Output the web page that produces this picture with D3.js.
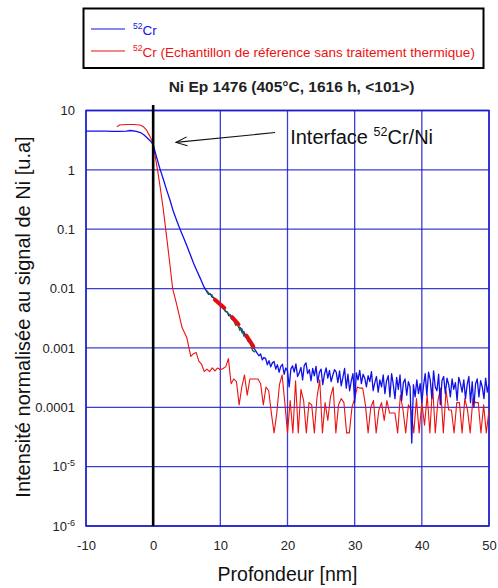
<!DOCTYPE html>
<html>
<head>
<meta charset="utf-8">
<script src="https://cdn.jsdelivr.net/npm/d3@7"></script>
<style>
  html, body { margin: 0; padding: 0; background: #fff; }
  svg { display: block; font-family: Arial, "Liberation Sans", Helvetica, sans-serif; }
</style>
</head>
<body>
<svg id="chart" width="498" height="588"></svg>
<script>
// ---------------- DATA ----------------
const xTicks = [-10, 0, 10, 20, 30, 40, 50];
const xTickLabels = ["-10", "0", "10", "20", "30", "40", "50"];
const yTicks = [10, 1, 0.1, 0.01, 0.001, 0.0001, 1e-5, 1e-6];
const yTickLabels = [["10"], ["1"], ["0.1"], ["0.01"], ["0.001"], ["0.0001"], ["10", "-5"], ["10", "-6"]];

const legendLabels = [
  { sup: "52", text: "Cr", color: "#1010e8" },
  { sup: "52", text: "Cr (Echantillon de réference sans traitement thermique)", color: "#ee1111" }
];
const chartTitle = "Ni Ep 1476 (405°C, 1616 h, <101>)";
const xTitle = "Profondeur [nm]";
const yTitle = "Intensité normalisée au signal de Ni [u.a]";

// Blue (annealed) profile: measured part near the interface [depth nm, intensity]
const blueProfile = [
  [-10,4.5],[-9,4.5],[-8,4.48],[-7,4.5],[-6,4.45],[-5,4.45],[-4,4.5],[-3.4,4.6],[-2.5,4.45],
  [-1.9,4.25],[-1.4,3.9],[-0.95,3.5],[-0.45,3.1],[0,2.65],[0.5,1.65],[1,1.05],[1.5,0.7],
  [2,0.46],[2.5,0.31],[3,0.2],[3.5,0.14],[4,0.1],[4.5,0.073],[5,0.053],[5.5,0.038],[6,0.027],
  [6.5,0.02],[7,0.015],[7.5,0.011],[8,0.0088],[8.25,0.0080],[8.5,0.0082],[8.75,0.0072],
  [9,0.0070],[9.25,0.0064],[9.5,0.0063],[9.75,0.0055],[10,0.0053],[10.25,0.0049],[10.5,0.0047],
  [10.75,0.0041],[11,0.0041],[11.25,0.0035],[11.5,0.0036],[11.75,0.0030],[12,0.0031],
  [12.25,0.0026],[12.5,0.0026],[12.75,0.0022],[13,0.0022],[13.25,0.0018],[13.5,0.0019],
  [13.75,0.0015],[14,0.0016],[14.25,0.0013],[14.5,0.0013],[14.75,0.0011],[15,0.00098]
];
// Blue background noise region, sampled every 0.25 nm from 15.25 nm
const blueNoiseStart = 15.25;
const blueNoiseStep = 0.25;
const blueNoise = [
  9.0e-4,8.1e-4,7.4e-4,7.9e-4,6.3e-4,6.9e-4,6.6e-4,5.2e-4,6.1e-4,4.8e-4,
  5.6e-4,5.9e-4,4.4e-4,5.2e-4,3.9e-4,4.9e-4,5.3e-4,3.6e-4,4.6e-4,4.1e-4,
  2.2e-4,4.4e-4,5.0e-4,3.9e-4,5.4e-4,3.3e-4,3.8e-4,4.7e-4,2.9e-4,5.1e-4,
  5.6e-4,3.7e-4,4.3e-4,2.8e-4,4.5e-4,3.4e-4,4.9e-4,2.6e-4,3.9e-4,4.4e-4,
  2.4e-4,3.6e-4,4.6e-4,3.1e-4,4.2e-4,2.7e-4,3.5e-4,4.3e-4,3.9e-4,2.6e-4,
  4.1e-4,2.3e-4,3.2e-4,4.5e-4,2.1e-4,3.6e-4,1.9e-4,2.8e-4,3.7e-4,1.2e-4,
  3.8e-4,2.9e-4,4.2e-4,2.5e-4,3.6e-4,3.1e-4,2.2e-4,3.4e-4,2.7e-4,4.0e-4,
  1.9e-4,2.6e-4,3.3e-4,1.8e-4,2.9e-4,2.2e-4,3.5e-4,1.7e-4,2.8e-4,3.4e-4,
  1.5e-4,3.7e-4,2.4e-4,1.4e-4,3.2e-4,2.0e-4,3.5e-4,1.3e-4,2.6e-4,3.0e-4,
  1.6e-4,2.7e-4,2.2e-4,2.5e-5,2.4e-4,1.5e-4,2.9e-4,1.7e-4,2.5e-4,1.2e-4,
  2.3e-4,3.7e-4,1.6e-4,3.9e-4,2.9e-4,1.4e-4,4.1e-4,2.2e-4,1.9e-4,3.6e-4,
  1.1e-4,2.8e-4,3.3e-4,1.7e-4,3.1e-4,2.4e-4,1.5e-4,3.0e-4,2.0e-4,2.6e-4,
  1.3e-4,3.2e-4,2.5e-4,1.8e-4,2.9e-4,1.4e-4,2.4e-4,3.3e-4,1.2e-4,2.7e-4,
  1.0e-4,2.5e-4,3.0e-4,1.5e-4,2.8e-4,2.2e-4,1.4e-4,3.1e-4,1.8e-4,2.5e-4
];

// Red (reference, no heat treatment) profile near the interface
const redProfile = [
  [-5.4,5.3],[-5,5.7],[-4,5.8],[-3,5.8],[-2,5.7],[-1.5,5.4],[-1,4.7],[-0.5,3.7],[0,2.8],
  [0.3,1.7],[0.65,1.0],[1,0.55],[1.5,0.22],[2,0.075],[2.5,0.025],[2.9,0.01],[3.5,0.0054],
  [4.3,0.0022],[5.0,0.0015]
];
// Red background noise region, sampled every 0.4 nm from 5.6 nm
const redNoiseStart = 5.6;
const redNoiseStep = 0.4;
const redNoise = [
  7.2e-4,8.0e-4,8.4e-4,6.0e-4,5.3e-4,4.0e-4,4.4e-4,4.0e-4,4.6e-4,4.1e-4,
  4.6e-4,4.3e-4,4.5e-4,4.8e-4,6.6e-4,2.5e-4,3.0e-4,2.7e-4,1.1e-4,2.2e-4,
  3.5e-4,1.6e-4,3.0e-4,3.0e-4,3.0e-4,3.0e-4,2.5e-4,1.1e-4,2.2e-4,1.9e-4,
  7.9e-5,3.7e-5,7.9e-5,2.4e-4,3.5e-4,1.2e-4,3.7e-5,1.3e-4,3.7e-5,2.8e-4,
  3.7e-5,2.0e-4,1.3e-4,3.7e-5,1.2e-4,1.1e-4,3.7e-5,1.5e-4,2.9e-4,3.7e-5,
  1.2e-4,6.0e-5,1.5e-4,2.2e-4,3.7e-5,1.1e-4,1.4e-4,1.2e-4,3.7e-5,3.7e-5,
  1.0e-4,1.4e-4,2.2e-4,2.1e-4,2.1e-4,1.1e-4,3.7e-5,1.0e-4,1.3e-4,3.7e-5,
  9.0e-5,1.2e-4,6.0e-5,1.3e-4,8.0e-5,8.0e-5,8.0e-5,3.7e-5,1.6e-4,9.0e-5,
  3.7e-5,1.1e-4,9.0e-5,3.7e-5,1.4e-4,3.7e-5,1.2e-4,5.0e-5,1.6e-4,3.7e-5,
  2.5e-4,3.7e-5,1.3e-4,2.1e-4,3.7e-5,1.9e-4,9.0e-5,9.0e-5,3.7e-5,1.2e-4,
  1.2e-4,3.7e-5,1.4e-4,9.0e-5,3.7e-5,1.4e-4,1.2e-4,1.2e-4,3.7e-5,1.1e-4,
  3.7e-5,9.0e-5
];

// Green fitted segment over the blue profile
const greenFit = [
  [8.0,0.0092],[8.4,0.0080],[8.7,0.0079],[9.0,0.0070],[9.4,0.0063],[9.8,0.0056],[10.2,0.0050],
  [10.6,0.0044],[11.0,0.0040],[11.3,0.0037],[11.6,0.0032],[12.0,0.0029],[12.3,0.0024],
  [12.6,0.0026],[12.9,0.0020],[13.2,0.0021],[13.5,0.0016],[13.8,0.0017],[14.1,0.0013],
  [14.5,0.0012],[14.8,0.0009],[15.2,0.00085]
];
// Thick red fit segments
const redFitSegments = [
  [[9.2,0.0065],[10.6,0.0047]],
  [[11.75,0.0033],[12.7,0.0025]],
  [[13.9,0.0016],[14.9,0.00106]]
];

// Annotation (in data coordinates)
const annotation = { label: "Interface ", sup: "52", rest: "Cr/Ni",
  textX: 20.4, textY: 2.72, arrowFrom: [18.15, 4.25], arrowTo: [3.4, 2.9] };
const interfaceDepth = 0;

// ---------------- CHART ----------------
const svg = d3.select("#chart");
const plot = { left: 86, right: 489, top: 110.5, bottom: 526 };

const x = d3.scaleLinear().domain([-10, 50]).range([plot.left, plot.right]);
const y = d3.scaleLog().domain([1e-6, 10]).range([plot.bottom, plot.top]);

const gridColor = "#1c1ccc";
const blue = "#1010e8", red = "#ee1111", green = "#1d6b2c";

svg.append("defs").append("clipPath").attr("id", "clip")
  .append("rect").attr("x", plot.left).attr("y", plot.top)
  .attr("width", plot.right - plot.left).attr("height", plot.bottom - plot.top);

// grid
const grid = svg.append("g");
grid.selectAll("line.gx").data(xTicks).join("line")
  .attr("x1", d => x(d)).attr("x2", d => x(d))
  .attr("y1", plot.top).attr("y2", plot.bottom)
  .attr("stroke", gridColor).attr("stroke-width", 1.3).attr("opacity", 0.85);
grid.selectAll("line.gy").data(yTicks).join("line")
  .attr("x1", plot.left).attr("x2", plot.right)
  .attr("y1", d => y(d)).attr("y2", d => y(d))
  .attr("stroke", gridColor).attr("stroke-width", 1.3).attr("opacity", 0.85);

// frame
svg.append("rect").attr("x", plot.left).attr("y", plot.top)
  .attr("width", plot.right - plot.left).attr("height", plot.bottom - plot.top)
  .attr("fill", "none").attr("stroke", gridColor).attr("stroke-width", 1.5);

// axes
const xAxis = d3.axisBottom(x).tickValues(xTicks).tickSize(0).tickPadding(15)
  .tickFormat(d => xTickLabels[xTicks.indexOf(d)]);
const gx = svg.append("g").attr("transform", `translate(0,${plot.bottom})`).call(xAxis);
gx.select(".domain").remove();
gx.selectAll("text").attr("font-size", 13).attr("fill", "#222").attr("font-family", "Arial, 'Liberation Sans', sans-serif");

const yAxis = d3.axisLeft(y).tickValues(yTicks).tickSize(0).tickPadding(11).tickFormat(() => "");
const gy = svg.append("g").attr("transform", `translate(${plot.left},0)`).call(yAxis);
gy.select(".domain").remove();
gy.selectAll(".tick text").each(function(d) {
  const lab = yTickLabels[yTicks.indexOf(d)];
  const t = d3.select(this).attr("font-size", 13).attr("fill", "#222")
    .attr("font-family", "Arial, 'Liberation Sans', sans-serif");
  t.text(null);
  t.append("tspan").text(lab[0]);
  if (lab[1]) t.append("tspan").attr("font-size", 9).attr("dy", -5).text(lab[1]);
});

// data lines
const line = d3.line().x(d => x(d[0])).y(d => y(d[1]));
const data = svg.append("g").attr("clip-path", "url(#clip)");

const blueAll = blueProfile.concat(blueNoise.map((v, i) => [blueNoiseStart + i * blueNoiseStep, v]));
const redAll = redProfile.concat(redNoise.map((v, i) => [redNoiseStart + i * redNoiseStep, v]));

data.append("path").datum(redAll).attr("d", line)
  .attr("fill", "none").attr("stroke", red).attr("stroke-width", 1.1).attr("stroke-linejoin", "round");
data.append("path").datum(blueAll).attr("d", line)
  .attr("fill", "none").attr("stroke", blue).attr("stroke-width", 1.3).attr("stroke-linejoin", "round");
data.append("path").datum(greenFit).attr("d", line)
  .attr("fill", "none").attr("stroke", green).attr("stroke-width", 1.4);
data.selectAll("path.rfit").data(redFitSegments).join("path")
  .attr("d", line).attr("fill", "none").attr("stroke", "#e01010")
  .attr("stroke-width", 4).attr("stroke-linecap", "round");

// interface vertical line
svg.append("line")
  .attr("x1", x(interfaceDepth)).attr("x2", x(interfaceDepth))
  .attr("y1", plot.top - 5.5).attr("y2", plot.bottom)
  .attr("stroke", "#000").attr("stroke-width", 2.6);

// annotation arrow
const ax1 = x(annotation.arrowFrom[0]), ay1 = y(annotation.arrowFrom[1]);
const ax2 = x(annotation.arrowTo[0]), ay2 = y(annotation.arrowTo[1]);
svg.append("line").attr("x1", ax1).attr("y1", ay1).attr("x2", ax2).attr("y2", ay2)
  .attr("stroke", "#111").attr("stroke-width", 1.1);
const ang = Math.atan2(ay1 - ay2, ax1 - ax2);
const hl = 12, ha = 0.38;
svg.append("path")
  .attr("d", `M${ax2 + hl * Math.cos(ang + ha)},${ay2 + hl * Math.sin(ang + ha)} L${ax2},${ay2} L${ax2 + hl * Math.cos(ang - ha)},${ay2 + hl * Math.sin(ang - ha)}`)
  .attr("fill", "none").attr("stroke", "#111").attr("stroke-width", 1.1);

const at = svg.append("text").attr("x", x(annotation.textX)).attr("y", y(annotation.textY))
  .attr("font-size", 20).attr("fill", "#111");
at.append("tspan").text(annotation.label);
at.append("tspan").attr("font-size", 12.5).attr("dy", -8).text(annotation.sup);
at.append("tspan").attr("dy", 8).text(annotation.rest);

// title
svg.append("text").attr("x", 291.5).attr("y", 91.5)
  .attr("text-anchor", "middle").attr("font-size", 15.5).attr("font-weight", "bold")
  .attr("fill", "#222").text(chartTitle);

// axis titles
svg.append("text").attr("x", (plot.left + plot.right) / 2).attr("y", 581)
  .attr("text-anchor", "middle").attr("font-size", 19.5).attr("fill", "#111").text(xTitle);
svg.append("text").attr("transform", `translate(30,317) rotate(-90)`)
  .attr("text-anchor", "middle").attr("font-size", 20).attr("fill", "#111").text(yTitle);

// legend
const lg = svg.append("g");
lg.append("rect").attr("x", 83.5).attr("y", 8.5).attr("width", 400).attr("height", 59.5)
  .attr("fill", "#fff").attr("stroke", "#000").attr("stroke-width", 2);
legendLabels.forEach((L, i) => {
  const cy = 29 + i * 22;
  lg.append("line").attr("x1", 91).attr("x2", 125).attr("y1", cy).attr("y2", cy)
    .attr("stroke", L.color).attr("stroke-width", 1.2);
  const t = lg.append("text").attr("x", 133).attr("y", cy + 5.5).attr("font-size", 13.5).attr("fill", L.color);
  t.append("tspan").attr("font-size", 8.5).attr("dy", -6).text(L.sup);
  t.append("tspan").attr("dy", 6).text(L.text);
});
</script>
</body>
</html>
